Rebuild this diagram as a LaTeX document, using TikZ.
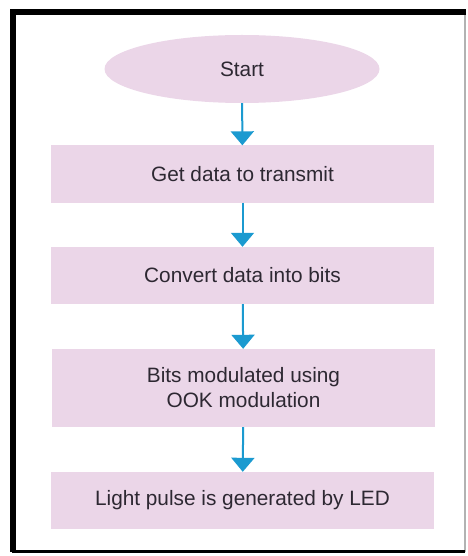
\documentclass[tikz,border=0pt]{standalone}
\usepackage{fontspec}
\setmainfont{Liberation Sans}
\usetikzlibrary{shapes.geometric,arrows.meta}
\definecolor{boxpink}{RGB}{235,214,232}
\definecolor{flowblue}{RGB}{27,154,208}
\definecolor{textgray}{RGB}{45,40,50}
\begin{document}
\begin{tikzpicture}
	[
	x=1pt, y=-1pt,
	term/.style={shape = ellipse, fill = boxpink, inner sep = 0pt, minimum width = 275pt, minimum height = 68pt},
	stepbox/.style={shape = rectangle, fill = boxpink, inner sep = 0pt, minimum width = 383pt, minimum height = 57pt, align = center},
	flow/.style={draw = flowblue, line width = 2pt, -{Triangle[width=23pt, length=14pt]}},
	every node/.style={text = textgray, font = \fontsize{20.8}{25}\selectfont}
	]
	\useasboundingbox (0,0) rectangle (467,556);
	
	% Frame
	\draw[gray!60, line width = 1.5pt] (13,12) rectangle (465,551);
	\draw[black, line width = 3pt] (12,551) -- (465,551);
	\draw[black, line width = 6pt] (13,552) -- (13,12) -- (466,12);
	
	% From up to down
	\node[term](start) at (242,69){Start};
	\node[stepbox](get) at (242.5,174){Get data to transmit};
	\node[stepbox](conv) at (242.5,275.5){Convert data into bits};
	\node[stepbox, minimum height = 78pt](mod) at (243.5,388){Bits modulated using\\OOK modulation};
	\node[stepbox](led) at (242.5,500.5){Light pulse is generated by LED};
	
	\draw[flow] (start) -- (get);
	\draw[flow] (get) -- (conv);
	\draw[flow] (conv) -- (mod);
	\draw[flow] (mod) -- (led);
\end{tikzpicture}
\end{document}
